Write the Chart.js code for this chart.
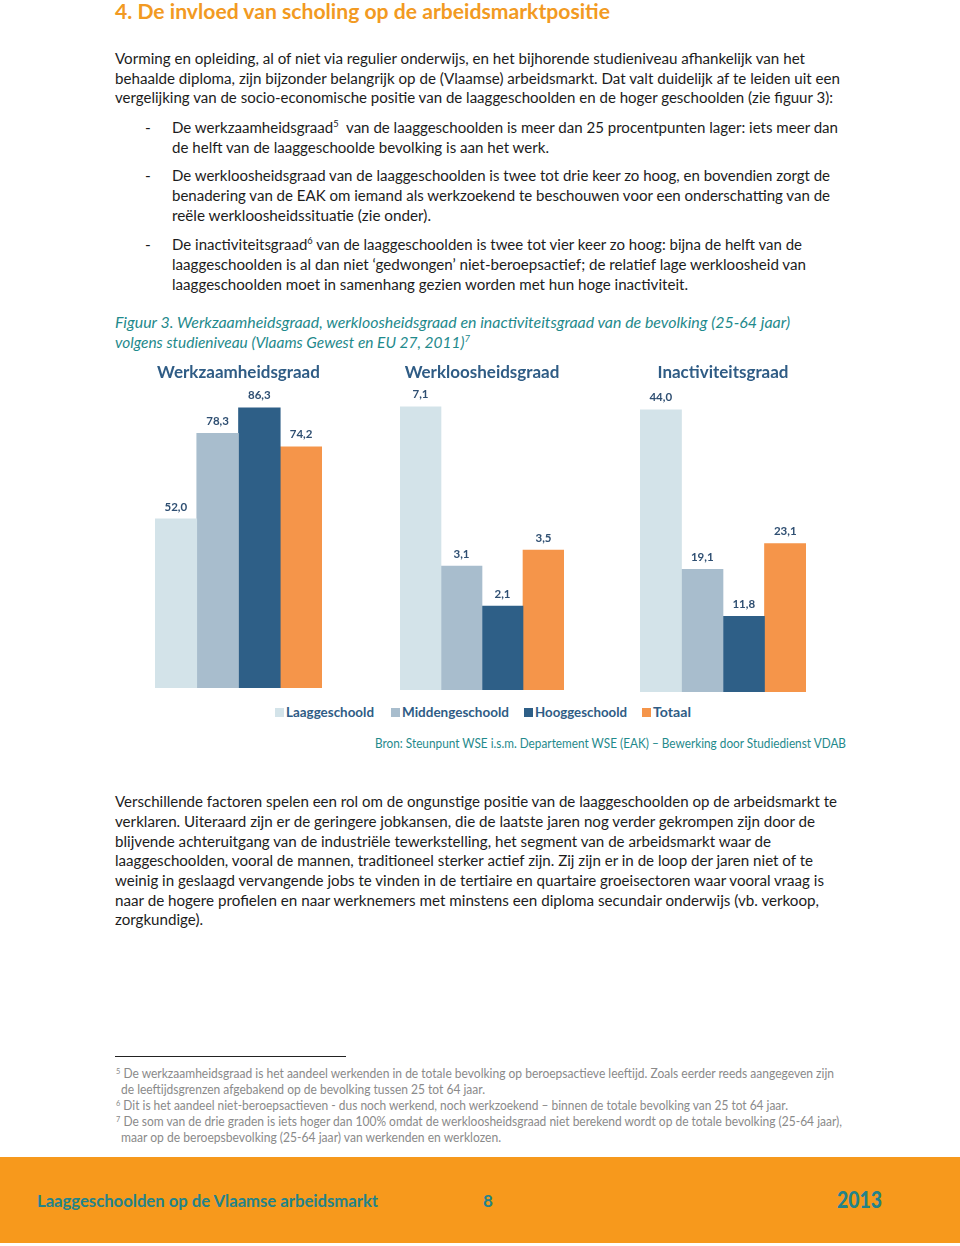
<!DOCTYPE html>
<html><head><meta charset="utf-8">
<script src="https://cdn.jsdelivr.net/npm/chart.js@4.4.0/dist/chart.umd.min.js"></script>
<style>
html,body{margin:0;padding:0;background:#fff;}
body{width:960px;height:1246px;position:relative;overflow:hidden;font-family:Lato,"Open Sans",sans-serif;color:#1c1c1c;}
.ln{position:absolute;white-space:nowrap;transform-origin:0 50%;line-height:1.2;}
.body{font-size:15.5px;}
.h1{font-size:21px;font-weight:700;color:#F29A22;}
.cap{font-size:15.5px;font-style:italic;color:#1F8A8C;}
.fn{font-size:13.2px;color:#8a8a8a;}
.src{font-size:13px;color:#1F8A8C;}
.leg{font-size:14px;font-weight:700;color:#2F5C85;}
.ft{font-size:17px;font-weight:700;color:#23838A;}
.ft2{font-size:23px;font-weight:900;color:#23838A;}
sup{font-size:0.62em;vertical-align:0.55em;line-height:0;}
.sq{position:absolute;width:9px;height:9px;}
.cv{position:absolute;}
#band{position:absolute;left:0;top:1157px;width:960px;height:86px;background:#F7991C;}
#rule{position:absolute;left:115px;top:1056px;width:231px;height:1px;background:#222;}
</style></head>
<body>
<div id="band"></div>
<div id="rule"></div>
<div id="texts"></div>
<div id="legend"></div>
<canvas id="c0" class="cv"></canvas>
<canvas id="c1" class="cv"></canvas>
<canvas id="c2" class="cv"></canvas>
<script>
// ---- data ----
const categories = ['Werkzaamheidsgraad', 'Werkloosheidsgraad', 'Inactiviteitsgraad'];
const seriesNames = ['Laaggeschoold', 'Middengeschoold', 'Hooggeschoold', 'Totaal'];
const laaggeschoold   = [52.0, 7.1, 44.0];
const middengeschoold = [78.3, 3.1, 19.1];
const hooggeschoold   = [86.3, 2.1, 11.8];
const totaal          = [74.2, 3.5, 23.1];
const seriesValues = [laaggeschoold, middengeschoold, hooggeschoold, totaal];
const seriesColors = ['#D3E3E9', '#A8BDCD', '#2E5F87', '#F5954A'];

// ---- page text (x, center y, target width, class, html) ----
const lines = [
 [115, 11, 495, 'h1', '4. De invloed van scholing op de arbeidsmarktpositie'],
 [115, 58, 690, 'body', 'Vorming en opleiding, al of niet via regulier onderwijs, en het bijhorende studieniveau afhankelijk van het'],
 [115, 77.5, 725, 'body', 'behaalde diploma, zijn bijzonder belangrijk op de (Vlaamse) arbeidsmarkt. Dat valt duidelijk af te leiden uit een'],
 [115, 97, 718, 'body', 'vergelijking van de socio-economische positie van de laaggeschoolden en de hoger geschoolden (zie figuur 3):'],
 [145, 127, 0, 'body', '-'],
 [172, 127, 666, 'body', 'De werkzaamheidsgraad<sup>5</sup>&nbsp; van de laaggeschoolden is meer dan 25 procentpunten lager: iets meer dan'],
 [172, 147, 377, 'body', 'de helft van de laaggeschoolde bevolking is aan het werk.'],
 [145, 175, 0, 'body', '-'],
 [172, 175, 658, 'body', 'De werkloosheidsgraad van de laaggeschoolden is twee tot drie keer zo hoog, en bovendien zorgt de'],
 [172, 195, 658, 'body', 'benadering van de EAK om iemand als werkzoekend te beschouwen voor een onderschatting van de'],
 [172, 215, 259, 'body', 'reële werkloosheidssituatie (zie onder).'],
 [145, 244, 0, 'body', '-'],
 [172, 244, 630, 'body', 'De inactiviteitsgraad<sup>6</sup> van de laaggeschoolden is twee tot vier keer zo hoog: bijna de helft van de'],
 [172, 264, 634, 'body', 'laaggeschoolden is al dan niet ‘gedwongen’ niet-beroepsactief; de relatief lage werkloosheid van'],
 [172, 284, 516, 'body', 'laaggeschoolden moet in samenhang gezien worden met hun hoge inactiviteit.'],
 [115, 322, 675, 'cap', 'Figuur 3. Werkzaamheidsgraad, werkloosheidsgraad en inactiviteitsgraad van de bevolking (25-64 jaar)'],
 [115, 342, 355, 'cap', 'volgens studieniveau (Vlaams Gewest en EU 27, 2011)<sup>7</sup>'],
 [375, 744, 471, 'src', 'Bron: Steunpunt WSE i.s.m. Departement WSE (EAK) – Bewerking door Studiedienst VDAB'],
 [115, 801, 722, 'body', 'Verschillende factoren spelen een rol om de ongunstige positie van de laaggeschoolden op de arbeidsmarkt te'],
 [115, 821, 700, 'body', 'verklaren. Uiteraard zijn er de geringere jobkansen, die de laatste jaren nog verder gekrompen zijn door de'],
 [115, 841, 656, 'body', 'blijvende achteruitgang van de industriële tewerkstelling, het segment van de arbeidsmarkt waar de'],
 [115, 860, 698, 'body', 'laaggeschoolden, vooral de mannen, traditioneel sterker actief zijn. Zij zijn er in de loop der jaren niet of te'],
 [115, 880, 709, 'body', 'weinig in geslaagd vervangende jobs te vinden in de tertiaire en quartaire groeisectoren waar vooral vraag is'],
 [115, 900, 704, 'body', 'naar de hogere profielen en naar werknemers met minstens een diploma secundair onderwijs (vb. verkoop,'],
 [115, 919, 88, 'body', 'zorgkundige).'],
 [116, 1074, 718, 'fn', '<sup>5</sup> De werkzaamheidsgraad is het aandeel werkenden in de totale bevolking op beroepsactieve leeftijd. Zoals eerder reeds aangegeven zijn'],
 [121, 1090, 364, 'fn', 'de leeftijdsgrenzen afgebakend op de bevolking tussen 25 tot 64 jaar.'],
 [116, 1106, 672, 'fn', '<sup>6</sup> Dit is het aandeel niet-beroepsactieven - dus noch werkend, noch werkzoekend – binnen de totale bevolking van 25 tot 64 jaar.'],
 [116, 1122, 726, 'fn', '<sup>7</sup> De som van de drie graden is iets hoger dan 100% omdat de werkloosheidsgraad niet berekend wordt op de totale bevolking (25-64 jaar),'],
 [121, 1138, 380, 'fn', 'maar op de beroepsbevolking (25-64 jaar) van werkenden en werklozen.'],
 [37, 1201, 341, 'ft', 'Laaggeschoolden op de Vlaamse arbeidsmarkt'],
 [483, 1201, 0, 'ft', '8'],
 [837, 1200, 45, 'ft2', '2013']
];
const texts = document.getElementById('texts');
lines.forEach(([x, y, w, cls, html]) => {
  const d = document.createElement('div');
  d.className = 'ln ' + cls;
  d.style.left = x + 'px'; d.style.top = y + 'px';
  d.innerHTML = html;
  d.dataset.w = w;
  texts.appendChild(d);
});

// legend (built from series names and colours)
const legX = [275, 391, 524, 642];
const legW = [88, 107, 92, 38];
const legend = document.getElementById('legend');
seriesNames.forEach((n, k) => {
  const s = document.createElement('div');
  s.className = 'sq'; s.style.left = legX[k] + 'px'; s.style.top = '708px'; s.style.background = seriesColors[k];
  legend.appendChild(s);
  const t = document.createElement('div');
  t.className = 'ln leg'; t.style.left = (legX[k] + 11) + 'px'; t.style.top = '712px';
  t.textContent = n; t.dataset.w = legW[k];
  legend.appendChild(t);
});

function fit() {
  document.querySelectorAll('.ln').forEach(el => {
    const w = +el.dataset.w;
    el.style.transform = 'translateY(-50%)';
    if (w > 0) {
      const a = el.getBoundingClientRect().width;
      el.style.transform = 'translateY(-50%) scaleX(' + (w / a) + ')';
    }
  });
}
fit();
if (document.fonts && document.fonts.ready) document.fonts.ready.then(fit);

// ---- charts ----
const fmt = v => v.toFixed(1).replace('.', ',');
const valueLabels = {
  id: 'valueLabels',
  afterDatasetsDraw(chart) {
    const ctx = chart.ctx;
    ctx.save();
    ctx.font = 'bold 11.5px Lato, sans-serif';
    ctx.fillStyle = '#2F4F72';
    ctx.textAlign = 'center';
    ctx.textBaseline = 'middle';
    chart.data.datasets.forEach((ds, di) => {
      chart.getDatasetMeta(di).data.forEach((el, j) => {
        ctx.fillText(fmt(ds.data[j]), el.x, el.y - 12);
      });
    });
    ctx.restore();
  }
};

const panels = [
  {left: 155, top: 360, width: 167, height: 328, padB: 25},
  {left: 400, top: 360, width: 164, height: 330, padB: 24},
  {left: 640, top: 360, width: 166, height: 332, padB: 27}
];

categories.forEach((cat, i) => {
  const p = panels[i];
  const cv = document.getElementById('c' + i);
  cv.width = p.width; cv.height = p.height;
  cv.style.left = p.left + 'px'; cv.style.top = p.top + 'px';
  cv.style.width = p.width + 'px'; cv.style.height = p.height + 'px';
  const vals = seriesValues.map(s => s[i]);
  new Chart(cv, {
    type: 'bar',
    data: {
      labels: [cat],
      datasets: seriesNames.map((n, k) => ({
        label: n, data: [seriesValues[k][i]], backgroundColor: seriesColors[k],
        categoryPercentage: 1, barPercentage: 1, borderWidth: 0
      }))
    },
    options: {
      responsive: false, animation: false, devicePixelRatio: 1,
      layout: {padding: 0},
      plugins: {
        legend: {display: false},
        tooltip: {enabled: false},
        title: {
          display: true, text: cat, color: '#2F5C85',
          font: {family: 'Lato, sans-serif', size: 17, weight: 'bold', lineHeight: 1.2},
          padding: {top: 2, bottom: p.padB}
        }
      },
      scales: {
        x: {display: false},
        y: {display: false, min: 0, max: Math.max(...vals)}
      }
    },
    plugins: [valueLabels]
  });
});
</script>
</body></html>
